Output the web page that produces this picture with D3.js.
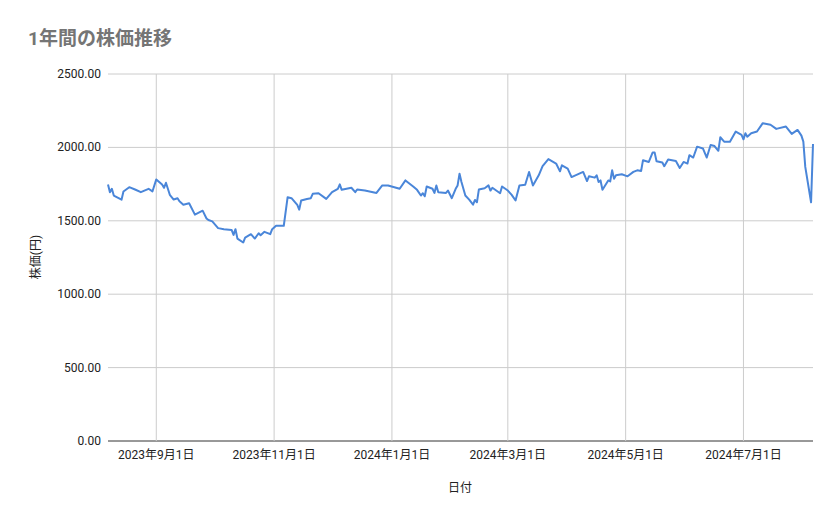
<!DOCTYPE html>
<html><head><meta charset="utf-8">
<script src="https://cdn.jsdelivr.net/npm/d3@7"></script>
<style>body{margin:0;background:#fff}text{font-family:Roboto,"Noto Sans CJK JP",sans-serif}</style>
</head><body><svg id="c" width="839" height="519"></svg>
<script>
const dates = ["2023-08-07","2023-08-08","2023-08-09","2023-08-10","2023-08-14","2023-08-15","2023-08-18","2023-08-21","2023-08-24","2023-08-28","2023-08-30","2023-09-01","2023-09-04","2023-09-05","2023-09-06","2023-09-08","2023-09-10","2023-09-12","2023-09-13","2023-09-15","2023-09-18","2023-09-21","2023-09-25","2023-09-27","2023-09-28","2023-09-30","2023-10-03","2023-10-06","2023-10-10","2023-10-11","2023-10-12","2023-10-13","2023-10-16","2023-10-17","2023-10-20","2023-10-22","2023-10-24","2023-10-25","2023-10-27","2023-10-30","2023-10-31","2023-11-02","2023-11-06","2023-11-08","2023-11-10","2023-11-13","2023-11-14","2023-11-15","2023-11-18","2023-11-20","2023-11-21","2023-11-24","2023-11-28","2023-12-01","2023-12-04","2023-12-05","2023-12-06","2023-12-11","2023-12-13","2023-12-14","2023-12-18","2023-12-24","2023-12-27","2023-12-30","2024-01-05","2024-01-08","2024-01-12","2024-01-14","2024-01-16","2024-01-17","2024-01-18","2024-01-19","2024-01-22","2024-01-23","2024-01-24","2024-01-25","2024-01-29","2024-01-30","2024-02-01","2024-02-03","2024-02-04","2024-02-05","2024-02-06","2024-02-08","2024-02-10","2024-02-12","2024-02-13","2024-02-14","2024-02-15","2024-02-18","2024-02-20","2024-02-21","2024-02-22","2024-02-26","2024-02-27","2024-03-01","2024-03-03","2024-03-05","2024-03-07","2024-03-10","2024-03-12","2024-03-14","2024-03-17","2024-03-19","2024-03-22","2024-03-26","2024-03-28","2024-03-29","2024-04-01","2024-04-03","2024-04-09","2024-04-11","2024-04-12","2024-04-15","2024-04-16","2024-04-17","2024-04-18","2024-04-19","2024-04-22","2024-04-23","2024-04-24","2024-04-25","2024-04-26","2024-04-29","2024-05-02","2024-05-05","2024-05-07","2024-05-09","2024-05-10","2024-05-13","2024-05-15","2024-05-16","2024-05-17","2024-05-20","2024-05-21","2024-05-23","2024-05-27","2024-05-29","2024-05-31","2024-06-02","2024-06-03","2024-06-05","2024-06-07","2024-06-10","2024-06-12","2024-06-14","2024-06-16","2024-06-18","2024-06-19","2024-06-21","2024-06-24","2024-06-27","2024-06-30","2024-07-01","2024-07-02","2024-07-03","2024-07-05","2024-07-08","2024-07-11","2024-07-15","2024-07-18","2024-07-23","2024-07-26","2024-07-29","2024-07-31","2024-08-01","2024-08-02","2024-08-05","2024-08-06"];
const prices = [1748,1695,1718,1672,1644,1700,1729,1713,1695,1718,1700,1782,1748,1725,1759,1677,1645,1654,1633,1610,1619,1542,1569,1516,1505,1496,1450,1443,1438,1404,1443,1379,1352,1386,1409,1379,1415,1402,1425,1409,1443,1466,1466,1661,1654,1608,1576,1638,1649,1654,1684,1688,1649,1695,1718,1748,1711,1725,1695,1713,1706,1690,1741,1741,1718,1775,1734,1711,1672,1688,1667,1734,1718,1690,1741,1695,1690,1706,1654,1718,1741,1821,1764,1672,1644,1610,1642,1626,1713,1722,1741,1706,1725,1688,1734,1706,1677,1638,1741,1745,1833,1741,1810,1872,1920,1890,1837,1878,1855,1798,1833,1771,1803,1794,1810,1764,1775,1711,1775,1768,1844,1787,1810,1817,1803,1833,1844,1839,1913,1901,1966,1966,1906,1897,1872,1917,1908,1860,1901,1890,1947,1931,2005,1993,1931,2016,2009,1977,2069,2039,2039,2108,2085,2055,2096,2073,2096,2108,2165,2154,2126,2142,2092,2119,2080,2039,1867,1626,2023];
const yTicks = [0,500,1000,1500,2000,2500];
const xTickDates = ["2023-09-01","2023-11-01","2024-01-01","2024-03-01","2024-05-01","2024-07-01"];
const xTickLabels = ["2023年9月1日","2023年11月1日","2024年1月1日","2024年3月1日","2024年5月1日","2024年7月1日"];
const title = "1年間の株価推移", yTitle = "株価(円)", xTitle = "日付";

const p = d3.timeParse("%Y-%m-%d");
const data = dates.map((d,i)=>({d:p(d),v:prices[i]}));
const svg = d3.select("#c");
const L=108,R=813,T=74,B=441;
const x = d3.scaleTime().domain([p("2023-08-07"),p("2024-08-06")]).range([L,R]);
const y = d3.scaleLinear().domain([0,2500]).range([B,T]);
const g = svg.append("g");
g.selectAll(".hy").data(yTicks).join("line").attr("x1",L).attr("x2",R).attr("y1",d=>y(d)).attr("y2",d=>y(d)).attr("stroke",d=>d===0?"#333":"#ccc").attr("stroke-width",1);
g.selectAll(".vx").data(xTickDates).join("line").attr("x1",d=>x(p(d))).attr("x2",d=>x(p(d))).attr("y1",T).attr("y2",B).attr("stroke","#ccc");
g.selectAll(".yl").data(yTicks).join("text").attr("x",101).attr("y",d=>y(d)+4).attr("text-anchor","end").attr("font-size",12).attr("fill","#222").text(d=>d.toFixed(2));
g.selectAll(".xl").data(xTickDates).join("text").attr("x",d=>x(p(d))).attr("y",459).attr("text-anchor","middle").attr("font-size",12).attr("fill","#222").text((d,i)=>xTickLabels[i]);
svg.append("path").datum(data).attr("fill","none").attr("stroke","#4a86d9").attr("stroke-width",2).attr("stroke-linejoin","round")
  .attr("d",d3.line().x(d=>x(d.d)).y(d=>y(d.v)));
svg.append("text").attr("x",28).attr("y",45).attr("font-size",19).attr("font-weight","bold").attr("fill","#757575").text(title);
svg.append("text").attr("transform","translate(40,257) rotate(-90)").attr("text-anchor","middle").attr("font-size",12).attr("fill","#222").text(yTitle);
svg.append("text").attr("x",460).attr("y",492).attr("text-anchor","middle").attr("font-size",12).attr("fill","#222").text(xTitle);
</script></body></html>
